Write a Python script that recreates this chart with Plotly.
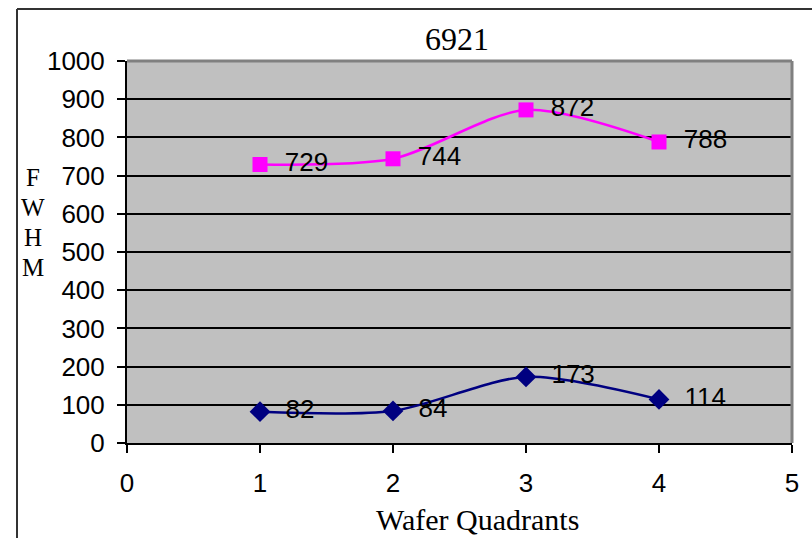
import plotly.graph_objects as go

quadrants = [1, 2, 3, 4]
fwhm_pink = [729, 744, 872, 788]
fwhm_blue = [82, 84, 173, 114]
y_ticks = [0, 100, 200, 300, 400, 500, 600, 700, 800, 900, 1000]
x_ticks = [0, 1, 2, 3, 4, 5]
y_title_letters = ["F", "W", "H", "M"]

ARIAL = "Arial, Liberation Sans"
SERIF = "Times New Roman, Liberation Serif"
PAD = "\u00a0\u00a0"

fig = go.Figure()
fig.add_trace(go.Scatter(
    x=quadrants, y=fwhm_blue, mode="lines+markers+text",
    line=dict(color="#000080", width=2.5, shape="spline", smoothing=0.8),
    marker=dict(symbol="diamond", size=16, color="#000080"),
    text=[PAD + str(v) for v in fwhm_blue], textposition="middle right",
    textfont=dict(family=ARIAL, size=26, color="black"),
    cliponaxis=False, showlegend=False))
fig.add_trace(go.Scatter(
    x=quadrants, y=fwhm_pink, mode="lines+markers+text",
    line=dict(color="#FF00FF", width=2.5, shape="spline", smoothing=0.8),
    marker=dict(symbol="square", size=15, color="#FF00FF"),
    text=[PAD + str(v) for v in fwhm_pink], textposition="middle right",
    textfont=dict(family=ARIAL, size=26, color="black"),
    cliponaxis=False, showlegend=False))

L, R, T, B = 127, 20, 61, 95
W, H = 812, 538
pw, ph = W - L - R, H - T - B

def px(x):
    return (x - L) / pw

def py(y):
    return (H - B - y) / ph

annotations = [
    dict(text="6921", xref="paper", yref="paper", x=px(457), y=py(39),
         showarrow=False, xanchor="center", yanchor="middle",
         font=dict(family=SERIF, size=32, color="black")),
    dict(text="Wafer Quadrants", xref="paper", yref="paper", x=px(477), y=py(519),
         showarrow=False, xanchor="center", yanchor="middle",
         font=dict(family=SERIF, size=30, color="black")),
]
for i, letter in enumerate(y_title_letters):
    annotations.append(dict(text=letter, xref="paper", yref="paper", x=px(33), y=py(177 + i * 30),
                            showarrow=False, xanchor="center", yanchor="middle",
                            font=dict(family=SERIF, size=25, color="black")))

fig.update_layout(
    width=W, height=H, margin=dict(l=L, r=R, t=T, b=B),
    paper_bgcolor="white", plot_bgcolor="#C0C0C0",
    xaxis=dict(range=[0, 5], tickvals=x_ticks, showgrid=False, zeroline=False,
               showline=True, linecolor="black", linewidth=2, ticks="outside", ticklen=8,
               tickcolor="black", tickwidth=1.5, ticklabelstandoff=8,
               tickfont=dict(family=ARIAL, size=26, color="black")),
    yaxis=dict(range=[0, 1000], tickvals=y_ticks, showgrid=True, gridcolor="black", gridwidth=1.5,
               zeroline=False, showline=True, linecolor="black", linewidth=2, ticks="outside",
               ticklen=8, tickcolor="black", tickwidth=1.5, ticklabelstandoff=7,
               tickfont=dict(family=ARIAL, size=26, color="black")),
    shapes=[
        dict(type="line", xref="paper", yref="paper", x0=1, x1=1, y0=0, y1=1,
             line=dict(color="#808080", width=3)),
        dict(type="line", xref="paper", yref="paper", x0=0, x1=1, y0=1, y1=1,
             line=dict(color="#808080", width=3)),
        dict(type="line", xref="paper", yref="paper", x0=px(17), x1=px(830), y0=py(9), y1=py(9),
             line=dict(color="#333333", width=2)),
        dict(type="line", xref="paper", yref="paper", x0=px(17), x1=px(17), y0=py(9), y1=py(560),
             line=dict(color="#333333", width=2)),
    ],
    annotations=annotations,
)

fig.write_html("out.html")
